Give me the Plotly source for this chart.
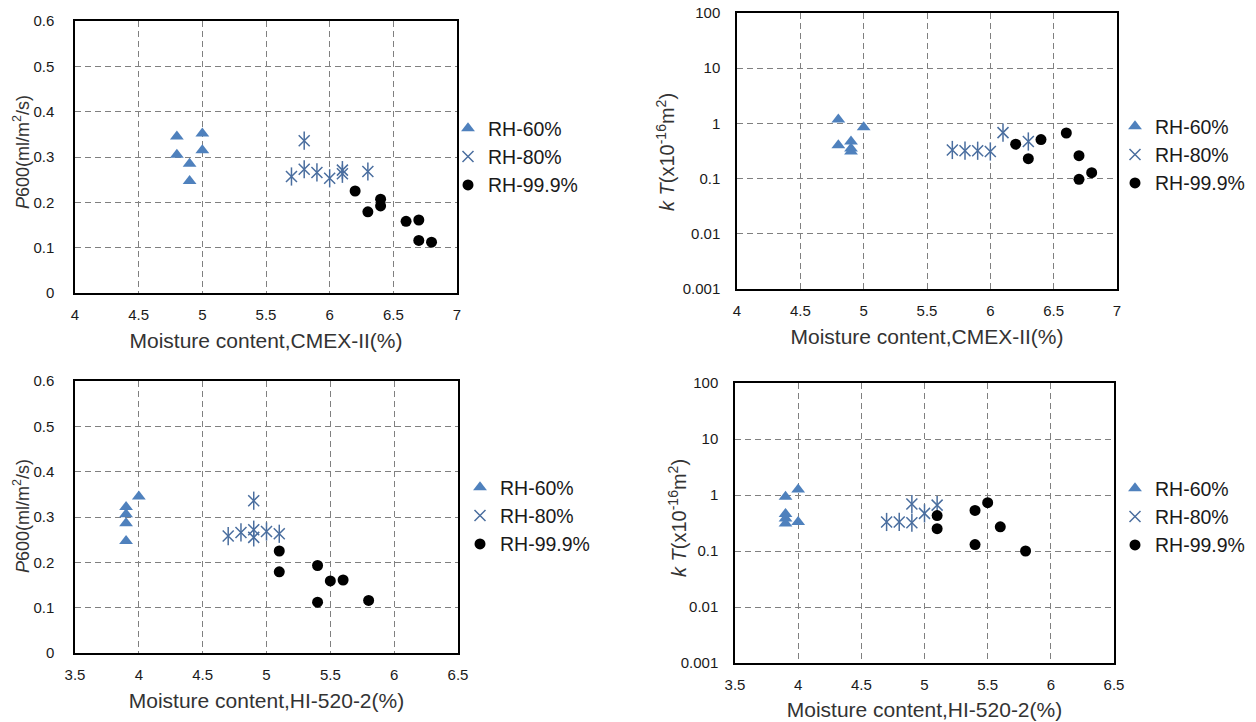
import plotly.graph_objects as go

# ---------------- data ----------------
# Panel A: P600 vs moisture content CMEX-II
a60_x = [4.8, 4.8, 4.9, 4.9, 5.0, 5.0]
a60_y = [0.345, 0.305, 0.285, 0.247, 0.352, 0.315]
a80_x = [5.7, 5.8, 5.8, 5.9, 6.0, 6.1, 6.1, 6.3]
a80_y = [0.257, 0.336, 0.273, 0.266, 0.253, 0.271, 0.263, 0.268]
a99_x = [6.2, 6.3, 6.4, 6.4, 6.6, 6.7, 6.7, 6.8]
a99_y = [0.225, 0.179, 0.207, 0.192, 0.158, 0.161, 0.116, 0.112]

# Panel B: kT vs moisture content CMEX-II
b60_x = [4.8, 4.8, 4.9, 4.9, 4.9, 5.0]
b60_y = [1.18, 0.40, 0.47, 0.35, 0.31, 0.85]
b80_x = [5.7, 5.8, 5.9, 6.0, 6.1, 6.3]
b80_y = [0.33, 0.32, 0.32, 0.31, 0.68, 0.47]
b99_x = [6.2, 6.3, 6.4, 6.6, 6.7, 6.7, 6.8]
b99_y = [0.42, 0.23, 0.51, 0.67, 0.26, 0.097, 0.128]

# Panel C: P600 vs moisture content HI-520-2
c60_x = [3.9, 3.9, 3.9, 3.9, 4.0]
c60_y = [0.322, 0.306, 0.286, 0.247, 0.345]
c80_x = [4.7, 4.8, 4.9, 4.9, 4.9, 5.0, 5.1]
c80_y = [0.258, 0.266, 0.336, 0.272, 0.255, 0.268, 0.263]
c99_x = [5.1, 5.1, 5.4, 5.4, 5.5, 5.6, 5.8]
c99_y = [0.225, 0.179, 0.193, 0.112, 0.159, 0.161, 0.116]

# Panel D: kT vs moisture content HI-520-2
d60_x = [3.9, 4.0, 3.9, 3.9, 3.9, 4.0]
d60_y = [0.93, 1.26, 0.46, 0.38, 0.31, 0.33]
d80_x = [4.7, 4.8, 4.9, 4.9, 5.0, 5.1]
d80_y = [0.33, 0.33, 0.32, 0.69, 0.47, 0.66]
d99_x = [5.1, 5.1, 5.4, 5.5, 5.4, 5.6, 5.8]
d99_y = [0.43, 0.25, 0.53, 0.73, 0.13, 0.27, 0.10]

series_names = ["RH-60%", "RH-80%", "RH-99.9%"]
xtitle_cmex = "Moisture content,CMEX-II(%)"
xtitle_hi = "Moisture content,HI-520-2(%)"
ytitle_p = "<i>P</i>600(ml/m<sup>2</sup>/s)"
ytitle_k = "<i>k T</i>(x10<sup>-16</sup>m<sup>2</sup>)"
log_ticks = [0.001, 0.01, 0.1, 1, 10, 100]
log_ticktext = ["0.001", "0.01", "0.1", "1", "10", "100"]

# ---------------- style ----------------
BLUE = "#4F81BD"
STAR = "#4A6E9F"
FONT = "Liberation Sans, Arial, sans-serif"
TXT = "#333333"

fig = go.Figure()

panels = [
    dict(ax="", data=[(a60_x, a60_y), (a80_x, a80_y), (a99_x, a99_y)], legend="legend"),
    dict(ax="2", data=[(b60_x, b60_y), (b80_x, b80_y), (b99_x, b99_y)], legend="legend2"),
    dict(ax="3", data=[(c60_x, c60_y), (c80_x, c80_y), (c99_x, c99_y)], legend="legend3"),
    dict(ax="4", data=[(d60_x, d60_y), (d80_x, d80_y), (d99_x, d99_y)], legend="legend4"),
]

for p in panels:
    xa, ya = "x" + p["ax"], "y" + p["ax"]
    (x60, y60), (x80, y80), (x99, y99) = p["data"]
    fig.add_trace(go.Scatter(x=x60, y=y60, mode="markers", name=series_names[0],
                             xaxis=xa, yaxis=ya, legend=p["legend"],
                             marker=dict(symbol="triangle-up", size=12, color=BLUE)))
    fig.add_trace(go.Scatter(x=x80, y=y80, mode="markers", name=series_names[1],
                             xaxis=xa, yaxis=ya, legend=p["legend"],
                             marker=dict(symbol="x-thin-open", size=11, color=STAR,
                                         line=dict(color=STAR, width=1.5))))
    fig.add_trace(go.Scatter(x=x80, y=y80, mode="markers", name=series_names[1],
                             xaxis=xa, yaxis=ya, showlegend=False,
                             marker=dict(symbol="line-ns-open", size=13, color=STAR,
                                         line=dict(color=STAR, width=1.5))))
    fig.add_trace(go.Scatter(x=x99, y=y99, mode="markers", name=series_names[2],
                             xaxis=xa, yaxis=ya, legend=p["legend"],
                             marker=dict(symbol="circle", size=11, color="black")))

W, H = 1256, 722


def dom_x(a, b):
    return [a / W, b / W]


def dom_y(top, bottom):
    return [1 - bottom / H, 1 - top / H]


common_axis = dict(showline=True, linecolor="black", linewidth=1.5, mirror=True,
                   showgrid=True, gridcolor="#808080", gridwidth=1, griddash="6px,4px",
                   zeroline=False, ticks="", ticklabelstandoff=7, automargin=False,
                   tickfont=dict(family=FONT, size=15, color="#1a1a1a"))

title_font = dict(family=FONT, size=21, color=TXT)

layout = dict(
    width=W, height=H, margin=dict(l=0, r=0, t=0, b=0, autoexpand=False),
    paper_bgcolor="white", plot_bgcolor="white",
    showlegend=True,
)

# Panel A
layout["xaxis"] = dict(common_axis, domain=dom_x(75, 457), anchor="y", range=[4, 7], dtick=0.5,
                       title=dict(text=xtitle_cmex, font=title_font, standoff=12))
layout["yaxis"] = dict(common_axis, domain=dom_y(21, 293), anchor="x", range=[0, 0.6], dtick=0.1,
                       ticklabelstandoff=16)
# Panel B
layout["xaxis2"] = dict(common_axis, domain=dom_x(737, 1117), anchor="y2", range=[4, 7], dtick=0.5,
                        title=dict(text=xtitle_cmex, font=title_font, standoff=12))
layout["yaxis2"] = dict(common_axis, domain=dom_y(13, 289), anchor="x2", type="log", range=[-3, 2],
                        tickvals=log_ticks, ticktext=log_ticktext, ticklabelstandoff=12)
# Panel C
layout["xaxis3"] = dict(common_axis, domain=dom_x(75, 458), anchor="y3", range=[3.5, 6.5], dtick=0.5,
                        title=dict(text=xtitle_hi, font=title_font, standoff=12))
layout["yaxis3"] = dict(common_axis, domain=dom_y(381, 653), anchor="x3", range=[0, 0.6], dtick=0.1,
                        ticklabelstandoff=16)
# Panel D
layout["xaxis4"] = dict(common_axis, domain=dom_x(735, 1114), anchor="y4", range=[3.5, 6.5], dtick=0.5,
                        title=dict(text=xtitle_hi, font=title_font, standoff=11))
layout["yaxis4"] = dict(common_axis, domain=dom_y(383, 663), anchor="x4", type="log", range=[-3, 2],
                        tickvals=log_ticks, ticktext=log_ticktext, ticklabelstandoff=12)

# y-axis titles as rotated annotations (precise placement)
ytitles = [
    (ytitle_p, 21, 152, 18),
    (ytitle_k, 665, 152, 20),
    (ytitle_p, 21, 516, 18),
    (ytitle_k, 677, 518, 20),
]
layout["annotations"] = [
    dict(text=t, x=px / W, y=1 - py / H, xref="paper", yref="paper", showarrow=False,
         textangle=-90, xanchor="center", yanchor="middle",
         font=dict(family=FONT, size=fs, color=TXT))
    for (t, px, py, fs) in ytitles
]

leg_common = dict(font=dict(family=FONT, size=19.5, color="#1a1a1a"), bgcolor="rgba(0,0,0,0)",
                  xanchor="left", yanchor="middle", tracegroupgap=0, itemwidth=30)
layout["legend"] = dict(leg_common, x=448 / W, y=1 - 157 / H)
layout["legend2"] = dict(leg_common, x=1115 / W, y=1 - 155 / H)
layout["legend3"] = dict(leg_common, x=460 / W, y=1 - 516 / H)
layout["legend4"] = dict(leg_common, x=1115 / W, y=1 - 517 / H)

fig.update_layout(**layout)
fig.write_html("out.html")
